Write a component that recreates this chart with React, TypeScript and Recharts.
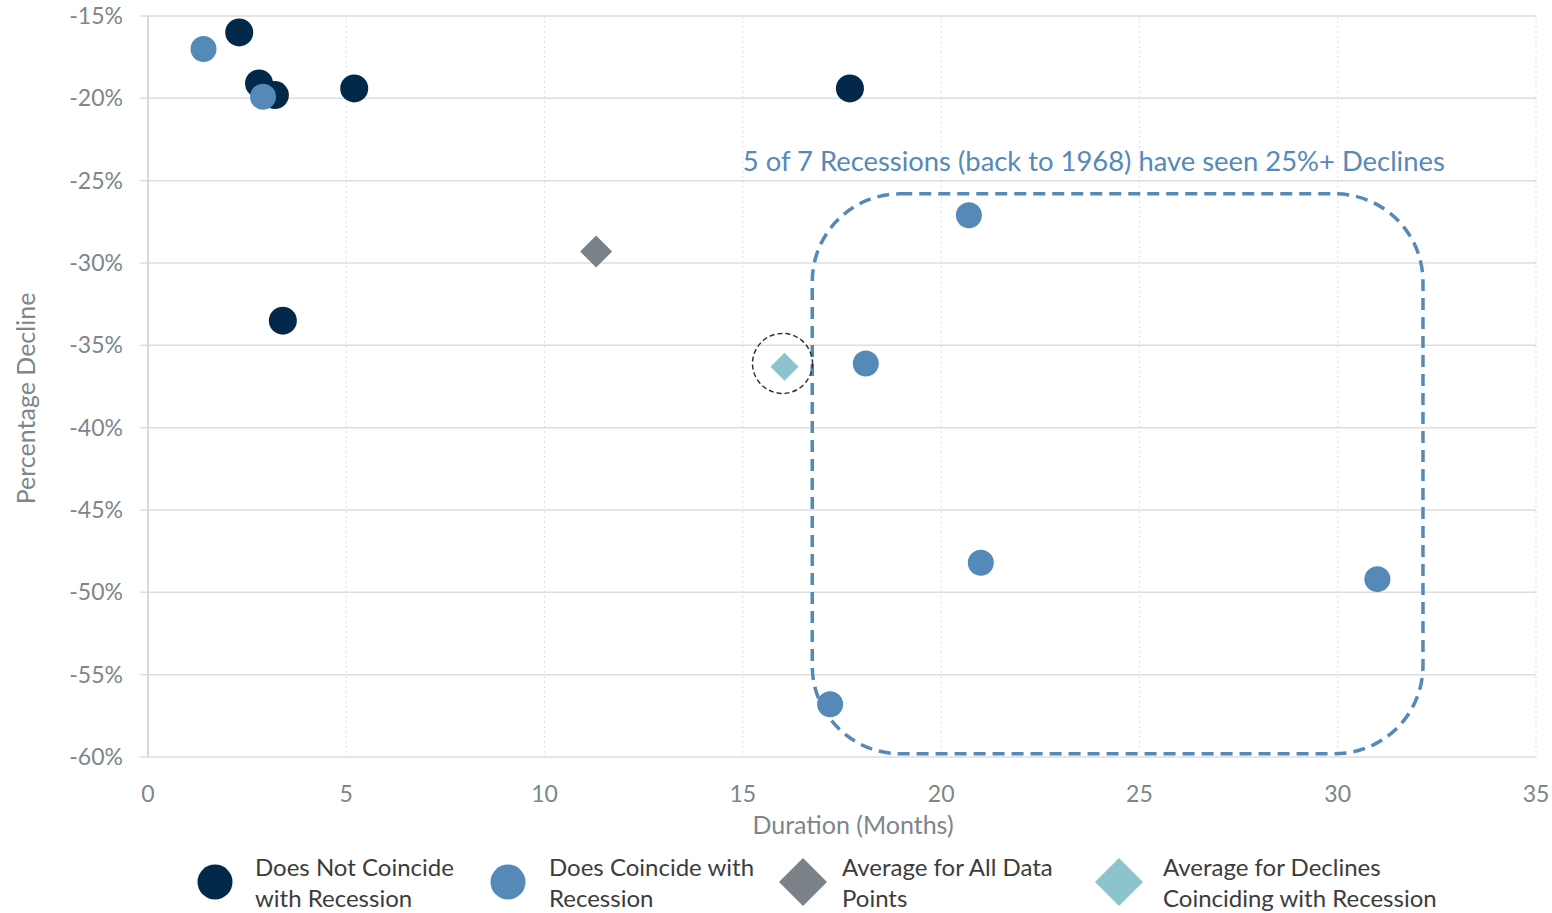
import React from "react";
import {
  ScatterChart,
  Scatter,
  XAxis,
  YAxis,
  CartesianGrid,
  ReferenceArea,
  ReferenceDot,
  Label,
} from "recharts";

// 하락 기간(개월) / 하락률(%)
const notRecession = [
  { x: 2.3, y: -16.0 },
  { x: 2.8, y: -19.1 },
  { x: 3.2, y: -19.8 },
  { x: 5.2, y: -19.4 },
  { x: 17.7, y: -19.4 },
  { x: 3.4, y: -33.5 },
];

const withRecession = [
  { x: 1.4, y: -17.0 },
  { x: 2.9, y: -19.9 },
  { x: 20.7, y: -27.1 },
  { x: 18.1, y: -36.1 },
  { x: 21.0, y: -48.2 },
  { x: 31.0, y: -49.2 },
  { x: 17.2, y: -56.8 },
];

const avgAll = [{ x: 11.3, y: -29.3 }];
const avgRecession = [{ x: 16.05, y: -36.3 }];

const xTicks = [0, 5, 10, 15, 20, 25, 30, 35];
const yTicks = [-60, -55, -50, -45, -40, -35, -30, -25, -20, -15];

// 점선 박스 범위 (데이터 좌표)
const boxRange = { x1: 16.75, x2: 32.15, y1: -25.8, y2: -59.8 };
const annotation = {
  x: 23.85,
  y: -23.75,
  text: "5 of 7 Recessions (back to 1968) have seen 25%+ Declines",
};

const NAVY = "#03294a";
const BLUE = "#5589b7";
const GREY = "#7b8287";
const TEAL = "#8dc3cc";
const TICK = "#7c868c";
const GRID = "#dedede";
const FONT = "Lato, 'Noto Sans', sans-serif";

const circleShape = (color: string, r: number) => (p: any) =>
  <circle cx={p.cx} cy={p.cy} r={r} fill={color} />;

const diamondShape = (color: string, h: number) => (p: any) =>
  (
    <polygon
      points={`${p.cx},${p.cy - h} ${p.cx + h},${p.cy} ${p.cx},${p.cy + h} ${p.cx - h},${p.cy}`}
      fill={color}
    />
  );

const legendItems = [
  { kind: "circle", color: NAVY, cx: 215, tx: 255, lines: ["Does Not Coincide", "with Recession"] },
  { kind: "circle", color: BLUE, cx: 508, tx: 549, lines: ["Does Coincide with", "Recession"] },
  { kind: "diamond", color: GREY, cx: 803, tx: 842, lines: ["Average for All Data", "Points"] },
  { kind: "diamond", color: TEAL, cx: 1119, tx: 1163, lines: ["Average for Declines", "Coinciding with Recession"] },
];

export default function App() {
  return (
    <div style={{ position: "relative", width: 1552, height: 913, fontFamily: FONT }}>
      <style>{`body { margin: 0; } .recharts-surface { overflow: visible; }`}</style>
      <ScatterChart
        width={1552}
        height={860}
        margin={{ top: 16, right: 16, left: 8, bottom: 23 }}
      >
        <CartesianGrid horizontal vertical={false} stroke={GRID} strokeWidth={1.5} />
        <CartesianGrid horizontal={false} vertical stroke={GRID} strokeDasharray="2 3" />
        <XAxis
          type="number"
          dataKey="x"
          domain={[0, 35]}
          ticks={xTicks}
          axisLine={false}
          tickLine={false}
          tickSize={0}
          tickMargin={29}
          height={80}
          tick={{ fill: TICK, fontSize: 23, fontFamily: FONT }}
        >
          <Label
            content={({ viewBox }: any) => (
              <text
                x={viewBox.x + viewBox.width / 2 + 11}
                y={824}
                textAnchor="middle"
                dominantBaseline="central"
                fill={TICK}
                fontSize={25}
                fontFamily={FONT}
              >
                Duration (Months)
              </text>
            )}
          />
        </XAxis>
        <YAxis
          type="number"
          dataKey="y"
          domain={[-60, -15]}
          ticks={yTicks}
          width={140}
          axisLine={{ stroke: "#cfcfcf", strokeWidth: 1.5 }}
          tickLine={{ stroke: GRID, strokeWidth: 1.5 }}
          tickSize={8}
          tickMargin={17}
          tickFormatter={(v: number) => `${v}%`}
          tick={{ fill: TICK, fontSize: 23, fontFamily: FONT }}
        >
          <Label
            content={({ viewBox }: any) => {
              const cx = viewBox.x + 17;
              const cy = viewBox.y + viewBox.height / 2 + 12;
              return (
                <text
                  x={cx}
                  y={cy}
                  transform={`rotate(-90 ${cx} ${cy})`}
                  textAnchor="middle"
                  dominantBaseline="central"
                  fill={TICK}
                  fontSize={25}
                  fontFamily={FONT}
                >
                  Percentage Decline
                </text>
              );
            }}
          />
        </YAxis>

        <ReferenceArea
          x1={boxRange.x1}
          x2={boxRange.x2}
          y1={boxRange.y1}
          y2={boxRange.y2}
          ifOverflow="visible"
          shape={(p: any) => (
            <rect
              x={p.x}
              y={p.y}
              width={p.width}
              height={p.height}
              rx={88}
              ry={88}
              fill="none"
              stroke={BLUE}
              strokeWidth={3.5}
              strokeDasharray="12 7"
            />
          )}
        />

        <Scatter data={notRecession} isAnimationActive={false} shape={circleShape(NAVY, 14)} />
        <Scatter data={withRecession} isAnimationActive={false} shape={circleShape(BLUE, 13)} />
        <Scatter data={avgAll} isAnimationActive={false} shape={diamondShape(GREY, 16)} />
        <Scatter data={avgRecession} isAnimationActive={false} shape={diamondShape(TEAL, 14)} />

        <ReferenceDot
          x={16.0}
          y={-36.1}
          r={30}
          fill="none"
          stroke="#333"
          strokeWidth={1.5}
          strokeDasharray="5 3"
          ifOverflow="visible"
        />
        <ReferenceDot
          x={annotation.x}
          y={annotation.y}
          r={0}
          fill="none"
          stroke="none"
          ifOverflow="visible"
          label={({ viewBox }: any) => (
            <text
              x={viewBox.x + (viewBox.width || 0) / 2}
              y={viewBox.y + (viewBox.height || 0) / 2}
              textAnchor="middle"
              dominantBaseline="central"
              fill={BLUE}
              fontSize={27.4}
              fontFamily={FONT}
            >
              {annotation.text}
            </text>
          )}
        />
      </ScatterChart>

      {legendItems.map((it) => (
        <div key={it.lines[0]}>
          <svg
            width={52}
            height={52}
            style={{ position: "absolute", left: it.cx - 26, top: 882 - 26 }}
          >
            {it.kind === "circle" ? (
              <circle cx={26} cy={26} r={17.5} fill={it.color} />
            ) : (
              <polygon points="26,2 50,26 26,50 2,26" fill={it.color} />
            )}
          </svg>
          <div
            style={{
              position: "absolute",
              left: it.tx,
              top: 851,
              fontSize: 24,
              lineHeight: "31px",
              color: "#3c3c3c",
              whiteSpace: "nowrap",
            }}
          >
            {it.lines[0]}
            <br />
            {it.lines[1]}
          </div>
        </div>
      ))}
    </div>
  );
}
